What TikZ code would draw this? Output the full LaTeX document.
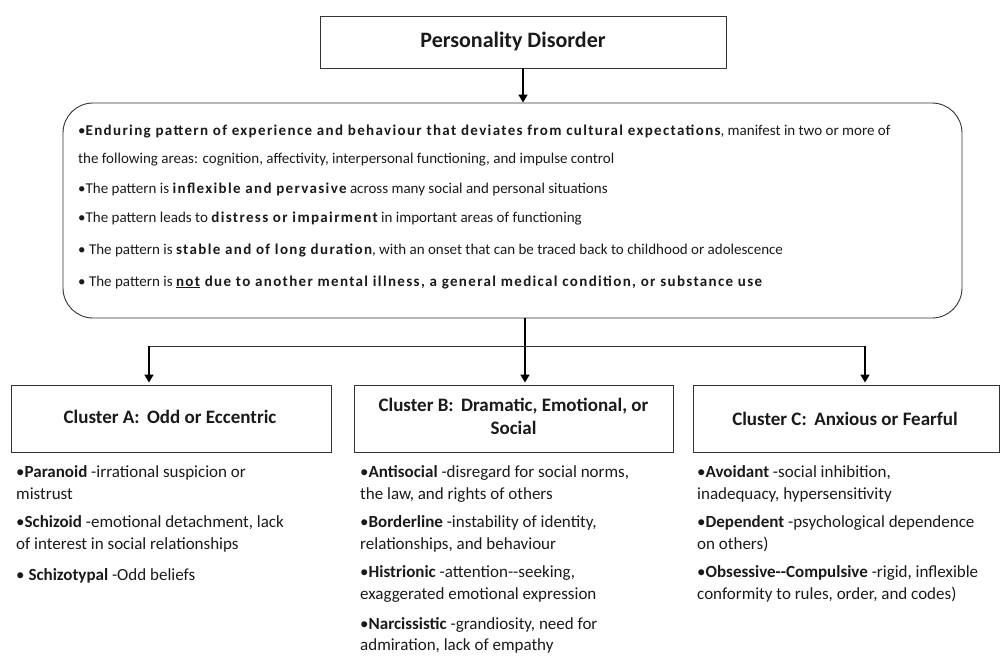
\documentclass[tikz,border=0pt]{standalone}
\usepackage{fontspec}
\setmainfont{Carlito}
\usetikzlibrary{arrows.meta}
\definecolor{ink}{HTML}{1A1A1A}
\definecolor{edge}{HTML}{333333}
\newcommand{\wb}[1]{{\bfseries\addfontfeature{LetterSpace=9}#1}}
\begin{document}
\begin{tikzpicture}[x=1pt,y=-1pt,
  boxstyle/.style={draw=edge,line width=0.9pt,fill=white,inner sep=0pt},
  critstyle/.style={draw=edge,line width=0.9pt,rounded corners=30pt,inner sep=0pt},
  ttl/.style={font=\fontsize{22}{26}\selectfont\bfseries,text=ink},
  hdr/.style={font=\fontsize{19}{23}\selectfont\bfseries,text=ink,align=center},
  txt/.style={font=\fontsize{15}{18}\selectfont,text=ink,anchor=base west,inner sep=0pt},
  ctxt/.style={font=\fontsize{17}{20}\selectfont,text=ink,anchor=base west,inner sep=0pt},
  arr/.style={draw=black,line width=1.6pt,-{Triangle[length=8pt,width=9pt]}},
  thinline/.style={draw=edge,line width=0.9pt}]
\useasboundingbox (0,0) rectangle (1002,664);
% boxes
\node[boxstyle,minimum width=406pt,minimum height=52pt] (pd) at (523,42) {};
\node[ttl] (pdt) at (513,42) {Personality Disorder};
\node[critstyle,minimum width=899pt,minimum height=215pt] (crit) at (512.5,210.5) {};
\node[boxstyle,minimum width=320pt,minimum height=67pt] (A) at (171,418.5) {};
\node[boxstyle,minimum width=319pt,minimum height=67pt] (B) at (513.5,418.5) {};
\node[boxstyle,minimum width=306pt,minimum height=67pt] (C) at (846,418.5) {};
\node[hdr] (At) at (170,417) {Cluster A:\ \,Odd or Eccentric};
\node[hdr] (Bt) at (513.5,416.5) {Cluster B:\ \,Dramatic, Emotional, or\\Social};
\node[hdr] (Ct) at (845,419) {Cluster C:\ \,Anxious or Fearful};
% connectors
\coordinate (ja) at (149,346);
\coordinate (jb) at (525,346);
\coordinate (jc) at (865,346);
\draw[arr] (pd.south) -- (pd.south |- crit.north);
\draw[arr,shorten >=2pt] (jb |- crit.south) -- (jb |- B.north);
\draw[thinline] (ja) -- (jc);
\draw[arr,shorten >=2pt] (ja) -- (ja |- A.north);
\draw[arr,shorten >=2pt] (jc) -- (jc |- C.north);
% criteria
\node[txt] (c1) at (78,135) {•\wb{Enduring pattern of experience and behaviour that deviates from cultural expectations}, manifest in two or more of};
\node[txt] (c2) at (78,163) {the following areas: cognition, affectivity, interpersonal functioning, and impulse control};
\node[txt] (c3) at (78,193) {•The pattern is \wb{inflexible and pervasive} across many social and personal situations};
\node[txt] (c4) at (78,222) {•The pattern leads to \wb{distress or impairment} in important areas of functioning};
\node[txt] (c5) at (78,254) {• The pattern is \wb{stable and of long duration}, with an onset that can be traced back to childhood or adolescence};
\node[txt] (c6) at (78,286) {• The pattern is \wb{\underline{not} due to another mental illness, a general medical condition, or substance use}};
% cluster A
\node[ctxt] (a1) at (16,477) {•\textbf{Paranoid} -irrational suspicion or};
\node[ctxt] (a2) at (16,499) {mistrust};
\node[ctxt] (a3) at (16,527) {•\textbf{Schizoid} -emotional detachment, lack};
\node[ctxt] (a4) at (16,549) {of interest in social relationships};
\node[ctxt] (a5) at (16,580) {• \textbf{Schizotypal} -Odd beliefs};
% cluster B
\node[ctxt] (b1) at (360,477) {•\textbf{Antisocial} -disregard for social norms,};
\node[ctxt] (b2) at (360,499) {the law, and rights of others};
\node[ctxt] (b3) at (360,527) {•\textbf{Borderline} -instability of identity,};
\node[ctxt] (b4) at (360,549) {relationships, and behaviour};
\node[ctxt] (b5) at (360,577) {•\textbf{Histrionic} -attention-{}-seeking,};
\node[ctxt] (b6) at (360,599) {exaggerated emotional expression};
\node[ctxt] (b7) at (360,629) {•\textbf{Narcissistic} -grandiosity, need for};
\node[ctxt] (b8) at (360,650) {admiration, lack of empathy};
% cluster C
\node[ctxt] (k1) at (697,477) {•\textbf{Avoidant} -social inhibition,};
\node[ctxt] (k2) at (697,499) {inadequacy, hypersensitivity};
\node[ctxt] (k3) at (697,527) {•\textbf{Dependent} -psychological dependence};
\node[ctxt] (k4) at (697,549) {on others)};
\node[ctxt] (k5) at (697,577) {•\textbf{Obsessive-{}-Compulsive} -rigid, inflexible};
\node[ctxt] (k6) at (697,599) {conformity to rules, order, and codes)};
\end{tikzpicture}
\end{document}
